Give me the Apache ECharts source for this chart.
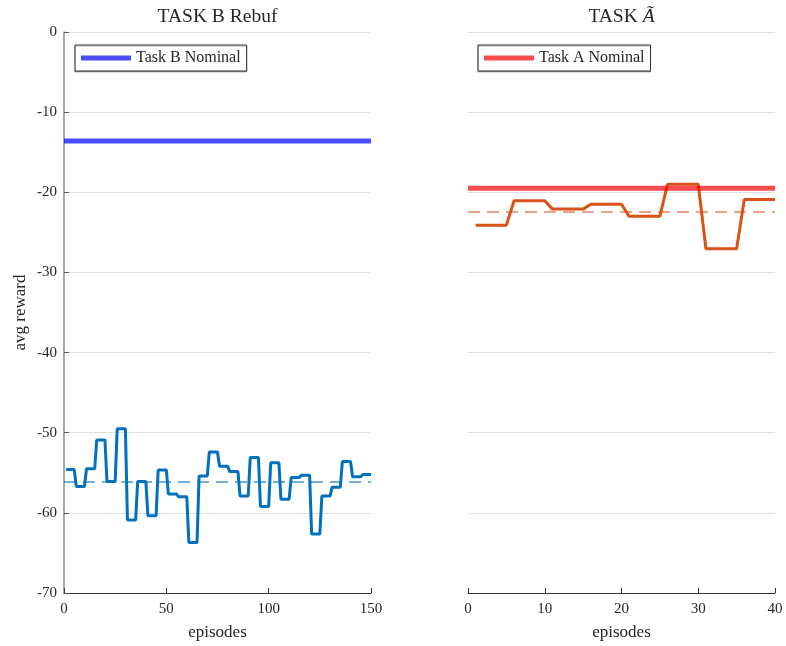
<!DOCTYPE html>
<html>
<head>
<meta charset="utf-8">
<script src="https://cdn.jsdelivr.net/npm/echarts@6/dist/echarts.min.js"></script>
<style>
html,body{margin:0;padding:0;background:#fff;}
#chart{width:786px;height:646px;}
</style>
</head>
<body>
<div id="chart"></div>
<script>
// ---- data ----
const titleB = 'TASK B Rebuf';
const legendB = 'Task B Nominal';
const legendA = 'Task A Nominal';
const yTicks = [-70, -60, -50, -40, -30, -20, -10, 0];
const xTicksB = [0, 50, 100, 150];
const xTicksA = [0, 10, 20, 30, 40];

const rewardB = [
  -54.6, -54.6, -54.6, -54.6, -54.6,
  -56.7, -56.7, -56.7, -56.7, -56.7,
  -54.5, -54.5, -54.5, -54.5, -54.5,
  -50.9, -50.9, -50.9, -50.9, -50.9,
  -56.1, -56.1, -56.1, -56.1, -56.1,
  -49.5, -49.5, -49.5, -49.5, -49.5,
  -60.9, -60.9, -60.9, -60.9, -60.9,
  -56.1, -56.1, -56.1, -56.1, -56.1,
  -60.35, -60.35, -60.35, -60.35, -60.35,
  -54.65, -54.65, -54.65, -54.65, -54.65,
  -57.65, -57.65, -57.65, -57.65, -57.65,
  -58.0, -58.0, -58.0, -58.0, -58.0,
  -63.7, -63.7, -63.7, -63.7, -63.7,
  -55.4, -55.4, -55.4, -55.4, -55.4,
  -52.4, -52.4, -52.4, -52.4, -52.4,
  -54.2, -54.2, -54.2, -54.2, -54.2,
  -54.85, -54.85, -54.85, -54.85, -54.85,
  -57.9, -57.9, -57.9, -57.9, -57.9,
  -53.1, -53.1, -53.1, -53.1, -53.1,
  -59.2, -59.2, -59.2, -59.2, -59.2,
  -53.75, -53.75, -53.75, -53.75, -53.75,
  -58.3, -58.3, -58.3, -58.3, -58.3,
  -55.6, -55.6, -55.6, -55.6, -55.6,
  -55.3, -55.3, -55.3, -55.3, -55.3,
  -62.65, -62.65, -62.65, -62.65, -62.65,
  -57.9, -57.9, -57.9, -57.9, -57.9,
  -56.8, -56.8, -56.8, -56.8, -56.8,
  -53.6, -53.6, -53.6, -53.6, -53.6,
  -55.5, -55.5, -55.5, -55.5, -55.5,
  -55.2, -55.2, -55.2, -55.2, -55.2
];
const rewardA = [
  -24.1, -24.1, -24.1, -24.1, -24.1,
  -21.05, -21.05, -21.05, -21.05, -21.05,
  -22.1, -22.1, -22.1, -22.1, -22.1,
  -21.5, -21.5, -21.5, -21.5, -21.5,
  -23.0, -23.0, -23.0, -23.0, -23.0,
  -19.0, -19.0, -19.0, -19.0, -19.0,
  -27.05, -27.05, -27.05, -27.05, -27.05,
  -20.9, -20.9, -20.9, -20.9, -20.9
];
const nominalB = -13.6;
const meanB = -56.15;
const nominalA = -19.5;
const meanA = -22.45;
const xMaxB = 150;
const xMaxA = 40;

// ---- chart ----
const FONT = "'Liberation Serif', 'DejaVu Serif', serif";
const TXT = '#262626';
const pairsB = rewardB.map((v, i) => [i + 1, v]);
const pairsA = rewardA.map((v, i) => [i + 1, v]);

function xAxis(idx, max, interval) {
  return {
    type: 'value', gridIndex: idx, min: 0, max: max, interval: interval,
    name: 'episodes', nameLocation: 'middle', nameGap: 31,
    nameTextStyle: {fontFamily: FONT, fontSize: 17, color: TXT},
    axisLine: {show: true, onZero: false, lineStyle: {color: '#333', width: 1}},
    axisTick: {show: true, inside: true, length: 5, lineStyle: {color: '#333'}},
    axisLabel: {fontFamily: FONT, fontSize: 15, color: TXT, margin: 9},
    splitLine: {show: false}
  };
}
function yAxis(idx, showAxis) {
  return {
    type: 'value', gridIndex: idx, min: -70, max: 0, interval: 10,
    name: showAxis ? 'avg reward' : '', nameLocation: 'middle', nameGap: 35, nameRotate: 90,
    nameTextStyle: {fontFamily: FONT, fontSize: 17, color: TXT},
    axisLine: {show: showAxis, lineStyle: {color: '#888', width: 1.5}},
    axisTick: {show: showAxis, inside: true, length: 5, lineStyle: {color: '#555'}},
    axisLabel: {show: showAxis, fontFamily: FONT, fontSize: 15, color: TXT, margin: 7},
    splitLine: {show: true, lineStyle: {color: '#dedede', width: 1}}
  };
}
function legend(name, left) {
  return {
    data: [name], left: left, top: 45, orient: 'horizontal',
    icon: 'rect', itemWidth: 50, itemHeight: 5,
    padding: [5, 6, 5, 6],
    borderColor: '#333', borderWidth: 1, backgroundColor: '#fff',
    shadowColor: 'rgba(0,0,0,0.3)', shadowOffsetX: 0, shadowOffsetY: 1, shadowBlur: 0,
    textStyle: {fontFamily: FONT, fontSize: 16, color: TXT},
    selectedMode: false
  };
}

const option = {
  animation: false,
  backgroundColor: '#fff',
  graphic: [
    {type: 'text', x: 217.5, y: 17, style: {text: titleB, fill: TXT, font: "19.5px " + FONT, align: 'center', verticalAlign: 'middle'}},
    {type: 'text', x: 621.5, y: 17, style: {
      text: '{r|TASK }{i|Ã}', align: 'center', verticalAlign: 'middle',
      rich: {
        r: {fontFamily: FONT, fontSize: 19.5, fill: TXT, color: TXT},
        i: {fontFamily: FONT, fontSize: 19.5, fontStyle: 'italic', fill: TXT, color: TXT}
      }
    }}
  ],
  grid: [
    {left: 64, top: 32, width: 307, height: 561, containLabel: false},
    {left: 468, top: 32, width: 307, height: 561, containLabel: false}
  ],
  legend: [legend(legendB, 75), legend(legendA, 478)],
  xAxis: [xAxis(0, xMaxB, 50), xAxis(1, xMaxA, 10)],
  yAxis: [yAxis(0, true), yAxis(1, false)],
  series: [
    {type: 'line', name: 'rewardB', xAxisIndex: 0, yAxisIndex: 0, data: pairsB,
     showSymbol: false, symbol: 'none', lineStyle: {color: '#0072BD', width: 3}, itemStyle: {color: '#0072BD'}, z: 2},
    {type: 'line', name: 'meanB', xAxisIndex: 0, yAxisIndex: 0, data: [[0, meanB], [xMaxB, meanB]],
     showSymbol: false, symbol: 'none', lineStyle: {color: 'rgba(0,114,189,0.75)', width: 1.5, type: [12, 7]}, z: 3},
    {type: 'line', name: legendB, xAxisIndex: 0, yAxisIndex: 0, data: [[0, nominalB], [xMaxB, nominalB]],
     showSymbol: false, symbol: 'none', lineStyle: {color: 'rgba(0,0,255,0.7)', width: 5}, itemStyle: {color: 'rgba(0,0,255,0.7)'}, z: 4},
    {type: 'line', name: 'rewardA', xAxisIndex: 1, yAxisIndex: 1, data: pairsA,
     showSymbol: false, symbol: 'none', lineStyle: {color: '#D95319', width: 3}, itemStyle: {color: '#D95319'}, z: 2},
    {type: 'line', name: 'meanA', xAxisIndex: 1, yAxisIndex: 1, data: [[0, meanA], [xMaxA, meanA]],
     showSymbol: false, symbol: 'none', lineStyle: {color: 'rgba(217,83,25,0.7)', width: 1.5, type: [12, 7]}, z: 3},
    {type: 'line', name: legendA, xAxisIndex: 1, yAxisIndex: 1, data: [[0, nominalA], [xMaxA, nominalA]],
     showSymbol: false, symbol: 'none', lineStyle: {color: 'rgba(255,0,0,0.7)', width: 5}, itemStyle: {color: 'rgba(255,0,0,0.7)'}, z: 4}
  ]
};
const chart = echarts.init(document.getElementById('chart'), null, {renderer: 'canvas'});
chart.setOption(option);
</script>
</body>
</html>
